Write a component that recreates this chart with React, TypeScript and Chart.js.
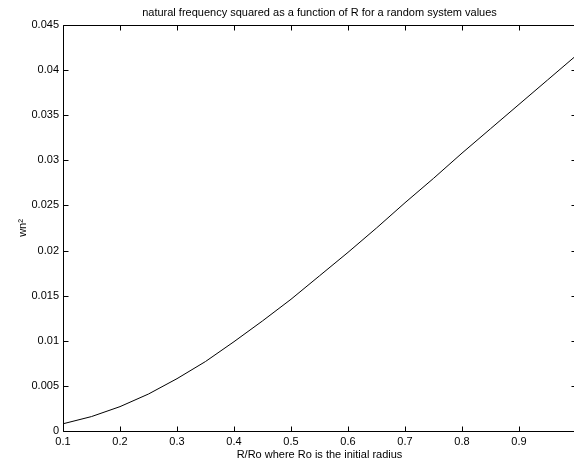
import React, { useEffect, useRef } from "react";
import { Chart, registerables } from "chart.js";

Chart.register(...registerables);

const titleText = "natural frequency squared as a function of R for a random system values";
const xAxisLabel = "R/Ro where Ro is the initial radius";
const yAxisLabel = "wn\u00B2";

const radiusRatio = [0.1, 0.15, 0.2, 0.25, 0.3, 0.35, 0.4, 0.45, 0.5, 0.55, 0.6, 0.65, 0.7, 0.75, 0.8, 0.85, 0.9, 0.95, 1.0];
const wnSquared = [0.0008, 0.0016, 0.0027, 0.0041, 0.0058, 0.0077, 0.0099, 0.0122, 0.0146, 0.0172, 0.0198, 0.0225, 0.0253, 0.028, 0.0308, 0.0335, 0.0362, 0.0389, 0.0416];

const FONT = "'Liberation Sans', Arial, Helvetica, sans-serif";

const framePlugin = {
  id: "matlabFrame",
  afterDraw(chart: any) {
    const { ctx, chartArea, scales } = chart;
    const L = Math.round(chartArea.left) + 0.5;
    const R = Math.round(chartArea.right) + 0.5;
    const T = Math.round(chartArea.top) + 0.5;
    const B = Math.round(chartArea.bottom) + 0.5;
    ctx.save();
    ctx.strokeStyle = "#000";
    ctx.lineWidth = 1;
    ctx.beginPath();
    ctx.rect(L, T, R - L, B - T);
    const tl = 5;
    scales.x.ticks.forEach((t: any) => {
      const px = Math.round(scales.x.getPixelForValue(t.value)) + 0.5;
      ctx.moveTo(px, B);
      ctx.lineTo(px, B - tl);
      ctx.moveTo(px, T);
      ctx.lineTo(px, T + tl);
    });
    scales.y.ticks.forEach((t: any) => {
      const py = Math.round(scales.y.getPixelForValue(t.value)) + 0.5;
      ctx.moveTo(L, py);
      ctx.lineTo(L + tl, py);
      ctx.moveTo(R, py);
      ctx.lineTo(R - tl, py);
    });
    ctx.stroke();
    ctx.restore();
  },
};

export default function App() {
  const canvasRef = useRef<HTMLCanvasElement | null>(null);

  useEffect(() => {
    const canvas = canvasRef.current;
    if (!canvas) return;
    const chart = new Chart(canvas, {
      type: "line",
      data: {
        datasets: [
          {
            data: radiusRatio.map((x, i) => ({ x, y: wnSquared[i] })),
            borderColor: "#000",
            borderWidth: 1,
            pointRadius: 0,
            tension: 0,
            fill: false,
          },
        ],
      },
      options: {
        responsive: false,
        animation: false,
        devicePixelRatio: 1,
        layout: { padding: { left: 0, right: 3, top: 0, bottom: 0 } },
        plugins: {
          legend: { display: false },
          tooltip: { enabled: false },
          title: {
            display: true,
            text: titleText,
            fullSize: false,
            color: "#000",
            font: { family: FONT, size: 11, weight: "normal", lineHeight: 1.2 },
            padding: { top: 6, bottom: 5.8 },
          },
        },
        scales: {
          x: {
            type: "linear",
            min: 0.1,
            max: 1.0,
            grid: { display: false, drawTicks: false },
            border: { display: false },
            ticks: {
              stepSize: 0.1,
              padding: 4,
              color: "#000",
              font: { family: FONT, size: 11 },
              maxRotation: 0,
              callback: (v: any) => (v > 0.999 ? "" : String(Number(Number(v).toFixed(1)))),
            },
            title: {
              display: true,
              text: xAxisLabel,
              color: "#000",
              font: { family: FONT, size: 11, lineHeight: 1.2 },
              padding: { top: 0, bottom: 2.4 },
            },
            afterFit: (s: any) => {
              s.height = 33;
            },
          },
          y: {
            type: "linear",
            min: 0,
            max: 0.045,
            grid: { display: false, drawTicks: false },
            border: { display: false },
            ticks: {
              stepSize: 0.005,
              padding: 4,
              color: "#000",
              font: { family: FONT, size: 11 },
              callback: (v: any) => String(Number(Number(v).toFixed(3))),
            },
            title: {
              display: true,
              text: yAxisLabel,
              color: "#000",
              font: { family: FONT, size: 11, lineHeight: 1.2 },
              padding: { top: 16.4, bottom: 0 },
            },
            afterFit: (s: any) => {
              s.width = 63;
            },
          },
        },
      },
      plugins: [framePlugin],
    });
    return () => chart.destroy();
  }, []);

  return (
    <div
      style={{
        position: "fixed",
        left: 0,
        top: 0,
        width: 574,
        height: 464,
        overflow: "hidden",
        background: "#fff",
      }}
    >
      <canvas ref={canvasRef} width={580} height={464} style={{ display: "block" }} />
    </div>
  );
}
